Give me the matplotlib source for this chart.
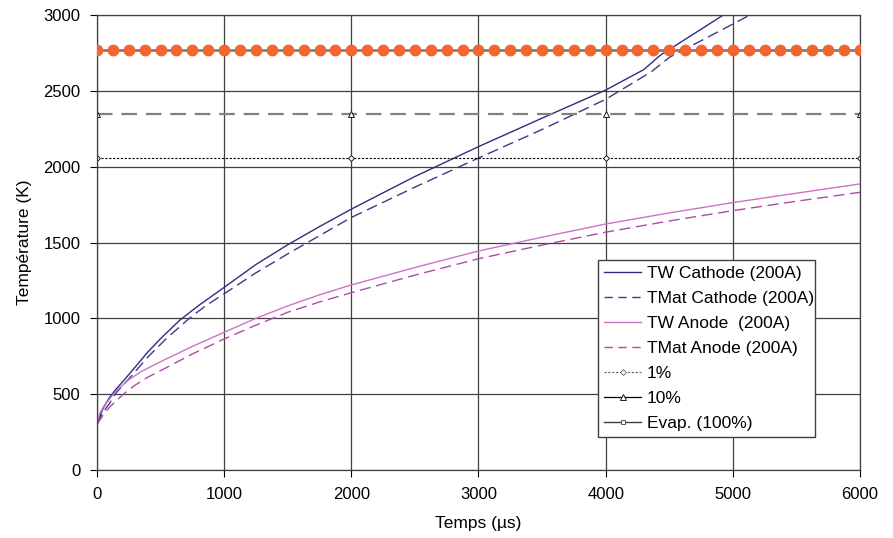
import numpy as np
import matplotlib
matplotlib.use("Agg")
from matplotlib import pyplot as plt
from matplotlib.lines import Line2D

plt.rcParams['font.family'] = ['Liberation Sans', 'DejaVu Sans']

# temps (µs) / température (K)
t_tw_cath = [0, 25, 50, 100, 147, 200, 246, 400, 500, 650, 800, 1000, 1250, 1500, 1750, 2000,
             2500, 3000, 3500, 4000, 4300, 4430, 4926, 5000]
T_tw_cath = [300, 360, 410, 480, 530, 580, 625, 778, 866, 987, 1085, 1204, 1355, 1485, 1605, 1720,
             1935, 2132, 2320, 2505, 2640, 2735, 3000, 3040]

t_tmat_cath = [0, 25, 50, 100, 142, 173, 250, 400, 550, 726, 850, 1000, 1250, 1500, 1750, 2000,
               2500, 3000, 3500, 4000, 4360, 4500, 5135, 5200]
T_tmat_cath = [300, 345, 385, 440, 500, 530, 600, 745, 870, 1000, 1080, 1162, 1300, 1425, 1545, 1665,
               1865, 2057, 2245, 2444, 2626, 2720, 3000, 3030]

t_tw_an = [0, 20, 50, 128, 175, 250, 350, 500, 750, 1000, 1250, 1500, 1750, 2000,
           2500, 3000, 3500, 4000, 4500, 5000, 5500, 6000]
T_tw_an = [300, 370, 415, 500, 540, 595, 650, 714, 815, 908, 1000, 1082, 1155, 1220,
           1335, 1444, 1535, 1622, 1695, 1763, 1825, 1886]

t_tmat_an = [0, 50, 100, 207, 300, 400, 509, 750, 1000, 1250, 1500, 1750, 2000,
             2500, 3000, 3500, 4000, 4500, 5000, 5500, 6000]
T_tmat_an = [300, 365, 415, 500, 560, 612, 659, 765, 864, 955, 1040, 1108, 1169,
             1285, 1393, 1483, 1568, 1642, 1710, 1772, 1831]

t_ref = [0, 2000, 4000, 6000]
T_1pc = [2055, 2055, 2055, 2055]
T_10pc = [2350, 2350, 2350, 2350]
T_evap = [2770, 2770, 2770, 2770]

t_dots = list(range(0, 6001, 125))
T_dots = [2770] * len(t_dots)

fig = plt.figure(figsize=(8.93, 5.38), dpi=100)
ax = fig.add_axes([0.1086, 0.1264, 0.8544, 0.8457])

c_cath = '#2E2E80'
c_cath2 = '#3A3A8C'
c_an = '#D070C8'
c_an2 = '#B04AA8'

ax.plot(t_tw_cath, T_tw_cath, color=c_cath, lw=1.0)
ax.plot(t_tmat_cath, T_tmat_cath, color=c_cath2, lw=1.0, dashes=(8, 4))
ax.plot(t_tw_an, T_tw_an, color=c_an, lw=1.0)
ax.plot(t_tmat_an, T_tmat_an, color=c_an2, lw=1.0, dashes=(8, 4))
ax.plot(t_ref, T_1pc, color='black', lw=0.8, ls=(0, (2, 1.5)), marker='D', ms=3,
        mfc='white', mec='black', mew=0.6)
ax.plot(t_ref, T_10pc, color='#808080', lw=1.6, dashes=(7, 4), marker='^', ms=4,
        mfc='white', mec='black', mew=0.6)
ax.plot(t_ref, T_evap, color='#808080', lw=2.0, marker='s', ms=3.5,
        mfc='white', mec='black', mew=0.6)
ax.plot(t_dots, T_dots, ls='none', marker='o', ms=7.5, color='#F26430', mec='#F26430', zorder=5)

ax.set_xlim(0, 6000)
ax.set_ylim(0, 3000)
ax.set_xticks(range(0, 6001, 1000))
ax.set_yticks(range(0, 3001, 500))
ax.grid(True, color='#404040', lw=0.9)
ax.set_axisbelow(True)
ax.tick_params(labelsize=12, direction='out', length=5, width=0.8, pad=7)
for s in ax.spines.values():
    s.set_color('#404040')
    s.set_linewidth(0.9)

ax.set_xlabel('Temps (µs)', fontsize=12.5, labelpad=10)
ax.set_ylabel('Température (K)', fontsize=12.5, labelpad=8)

handles = [
    Line2D([], [], color=c_cath, lw=1.0),
    Line2D([], [], color=c_cath2, lw=1.0, dashes=(6, 4)),
    Line2D([], [], color=c_an, lw=1.0),
    Line2D([], [], color=c_an2, lw=1.0, dashes=(6, 4)),
    Line2D([], [], color='#606060', lw=0.8, ls=(0, (2, 1.5)), marker='D', ms=3,
           mfc='white', mec='#606060', mew=0.6),
    Line2D([], [], color='black', lw=0.9, marker='^', ms=4, mfc='white', mec='black', mew=0.6),
    Line2D([], [], color='#404040', lw=1.0, marker='s', ms=3.5, mfc='white', mec='#404040', mew=0.6),
]
labels = ['TW Cathode (200A)', 'TMat Cathode (200A)', 'TW Anode  (200A)', 'TMat Anode (200A)',
          '1%', '10%', 'Evap. (100%)']
leg = ax.legend(handles, labels, loc='lower left', bbox_to_anchor=(0.657, 0.073, 0.284, 0.382),
                mode='expand', fontsize=12.5, frameon=True, fancybox=False, handlelength=2.1,
                handletextpad=0.35, borderaxespad=0, labelspacing=0.56, borderpad=0.35)
leg.get_frame().set_edgecolor('#404040')
leg.get_frame().set_linewidth(1.0)
leg.get_frame().set_alpha(1)

fig.savefig('out.png', dpi=100)
